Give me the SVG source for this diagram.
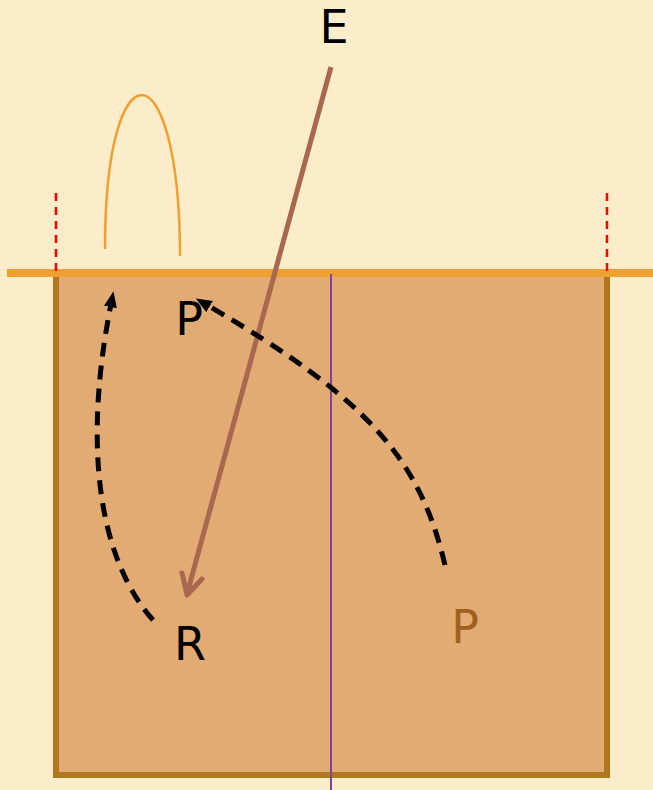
<svg xmlns="http://www.w3.org/2000/svg" width="653" height="790" viewBox="0 0 653 790">
<defs>
<style>
.lbl{font-family:"DejaVu Sans",sans-serif;font-size:46px;text-anchor:middle}
.flow{fill:none;stroke:#000;stroke-width:5;stroke-dasharray:14,9}
</style>
<marker id="ah" markerWidth="16" markerHeight="13" refX="3" refY="6.5" orient="auto" markerUnits="userSpaceOnUse" viewBox="0 0 16 13">
<path d="M0,0 L16,6.5 L0,13 Z" fill="#000"/>
</marker>
</defs>
<rect width="653" height="790" fill="#fcedca"/>
<g id="box">
<rect x="56" y="273" width="551" height="502" fill="#e2ab74" stroke="#b07820" stroke-width="6"/>
</g>
<g id="surface">
<line x1="7" y1="273" x2="653" y2="273" stroke="#f0a030" stroke-width="8"/>
<line x1="56" y1="193" x2="56" y2="273" stroke="#ff0000" stroke-width="2.5" stroke-dasharray="8,6"/>
<line x1="607" y1="193" x2="607" y2="273" stroke="#ff0000" stroke-width="2.5" stroke-dasharray="8,6"/>
<path d="M105,249 C105,140 125,95 142,95 C160,95 180,150 180,256" fill="none" stroke="#f0a030" stroke-width="2.5"/>
</g>
<g id="normal">
<line x1="331" y1="274" x2="331" y2="790" stroke="#8040a0" stroke-width="2"/>
</g>
<g id="connectors">
<line x1="331" y1="67" x2="187" y2="594" stroke="#a86850" stroke-width="5"/>
<polyline points="182,573 187,595 202,579" fill="none" stroke="#a86850" stroke-width="5" stroke-linecap="round" stroke-linejoin="round"/>
<path class="flow" d="M153,620 C100,560 82,450 111,304" marker-end="url(#ah)"/>
<path class="flow" d="M445,565 C420,460 370,400 207,305" marker-end="url(#ah)"/>
</g>
<g id="labels">
<text class="lbl" x="334" y="43">E</text>
<text class="lbl" x="189" y="335">P</text>
<text class="lbl" x="190" y="660">R</text>
<text class="lbl" x="465" y="643" fill="#a0601f">P</text>
</g>
</svg>
